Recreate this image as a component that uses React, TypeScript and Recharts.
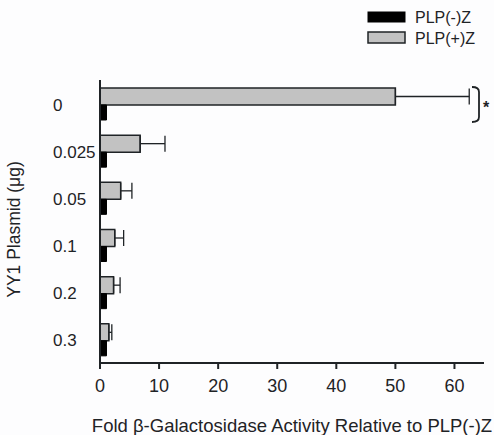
import React from "react";
import { BarChart, Bar, XAxis, YAxis, ErrorBar } from "recharts";

const categories = ["0", "0.025", "0.05", "0.1", "0.2", "0.3"];
const plpPlus = [50, 6.8, 3.5, 2.5, 2.3, 1.5];
const plpPlusErr = [12.5, 4.2, 1.9, 1.5, 1.1, 0.5];
const plpMinus = [1.1, 1.1, 1.1, 1.1, 1.1, 1.1];
const xTicks = [0, 10, 20, 30, 40, 50, 60];
const legendLabels = ["PLP(-)Z", "PLP(+)Z"];

const data = categories.map((c, i) => ({
  dose: c,
  plus: plpPlus[i],
  plusErr: [0, plpPlusErr[i]],
  minus: plpMinus[i],
}));

const FONT = "'Liberation Sans', Arial, sans-serif";
const DARK = "#1f2326";

const YTick = (props: any) => {
  const { y, payload } = props;
  return (
    <text x={53} y={y} dy={7} textAnchor="start" fontSize={17} fill={DARK} fontFamily={FONT}>
      {payload.value}
    </text>
  );
};

export default function App() {
  return (
    <div style={{ position: "absolute", left: 0, top: 0, width: 494, height: 435, background: "#fdfdfe" }}>
      <BarChart
        width={494}
        height={435}
        data={data}
        layout="vertical"
        margin={{ top: 80, right: 10, bottom: 0, left: 0 }}
        barGap={0}
        barCategoryGap={7}
      >
        <XAxis
          type="number"
          domain={[0, 65]}
          ticks={xTicks}
          tickLine={{ stroke: DARK, strokeWidth: 2 }}
          tickSize={6}
          tickMargin={10}
          axisLine={{ stroke: DARK, strokeWidth: 2 }}
          tick={{ fontSize: 18, fill: DARK, fontFamily: FONT }}
          height={72}
          label={{
            value: "Fold β-Galactosidase Activity Relative to PLP(-)Z",
            position: "insideBottom",
            offset: 3,
            fontSize: 18.5,
            fill: DARK,
            fontFamily: FONT,
          }}
        />
        <YAxis
          type="category"
          dataKey="dose"
          width={100}
          tickLine={false}
          axisLine={{ stroke: DARK, strokeWidth: 2 }}
          tick={<YTick />}
          label={{
            value: "YY1 Plasmid (μg)",
            angle: -90,
            position: "insideLeft",
            offset: 14,
            dy: 8,
            fontSize: 17.5,
            fill: DARK,
            fontFamily: FONT,
            style: { textAnchor: "middle" },
          }}
        />
        <Bar dataKey="plus" name="PLP(+)Z" fill="#c2c2c2" stroke={DARK} strokeWidth={1.5} barSize={17} isAnimationActive={false}>
          <ErrorBar dataKey="plusErr" direction="x" width={8} stroke={DARK} strokeWidth={1.3} />
        </Bar>
        <Bar dataKey="minus" name="PLP(-)Z" fill="#000" stroke="#000" barSize={15} isAnimationActive={false} />
      </BarChart>
      <svg width={494} height={435} style={{ position: "absolute", left: 0, top: 0, pointerEvents: "none" }}>
        <rect x={368} y={12} width={37} height={10} fill="#000" stroke="#000" />
        <text x={415} y={23} fontSize={16} fill={DARK} fontFamily={FONT}>{legendLabels[0]}</text>
        <rect x={368} y={32} width={37} height={11} fill="#c2c2c2" stroke={DARK} strokeWidth={1.5} />
        <text x={415} y={44} fontSize={16} fill={DARK} fontFamily={FONT}>{legendLabels[1]}</text>
        <path d="M472 87 Q479 87 479 92 L479 117 Q479 122 472 122" fill="none" stroke={DARK} strokeWidth={1.8} />
        <text x={483} y={113} fontSize={16} fontWeight="bold" fill={DARK} fontFamily={FONT}>*</text>
      </svg>
    </div>
  );
}
